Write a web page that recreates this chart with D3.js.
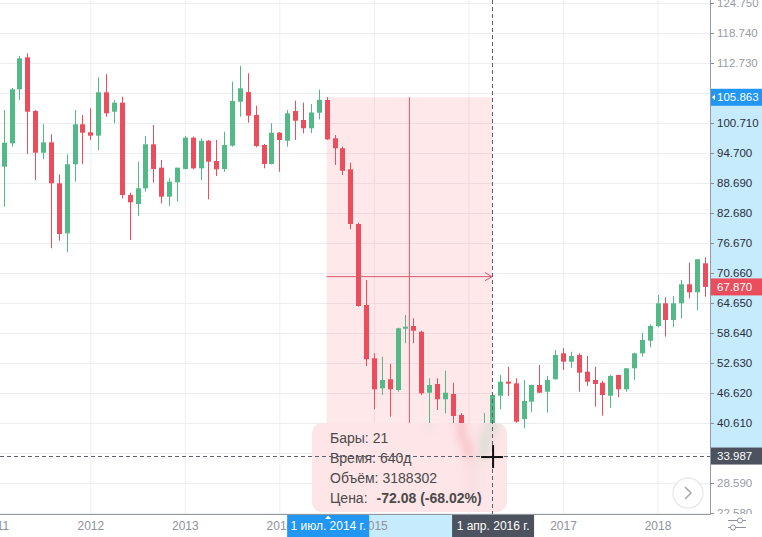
<!DOCTYPE html>
<html>
<head>
<meta charset="utf-8">
<script src="https://cdn.jsdelivr.net/npm/d3@7"></script>
<style>
  html, body { margin: 0; padding: 0; background: #fff; overflow: hidden; }
  svg { display: block; }
</style>
</head>
<body>
<svg id="chart"></svg>
<script>
/* ════════════════════════════════════════════════════════
   Monthly candles 2011–2018 with a measure tool overlay
   ════════════════════════════════════════════════════════ */

/* ── Data ── */
const months = d3.timeMonth.range(new Date(2011, 1, 1), new Date(2018, 7, 1)); // Feb 2011 .. Jul 2018

const open = [
  91.96, 96.64, 107.46, 113.87, 103.11, 94.76, 96.84, 88.63, 78.61, 92.44, 100.45,
  98.85, 98.17, 106.86, 102.97, 104.78, 86.29, 84.48, 87.63, 96.44, 91.76, 85.95, 88.83,
  91.50, 97.77, 91.63, 97.16, 93.10, 91.50, 96.16, 104.98, 106.90, 102.31, 96.30, 92.50,
  98.77, 97.16, 103.11, 101.31, 99.65, 102.77, 105.32, 97.64, 95.64, 91.43, 80.48, 64.25,
  53.57, 47.56, 49.37, 47.22, 59.50, 60.04, 58.90, 46.68, 48.42, 45.36, 46.42, 42.21,
  37.00, 33.60, 33.90, 38.50, 46.08, 48.89, 48.56, 41.41, 44.88, 48.22, 46.88, 49.37,
  54.57, 52.89, 54.24, 50.89, 49.23, 48.69, 46.08, 50.23, 47.36, 51.57, 54.57, 57.10,
  60.04, 64.59, 61.25, 64.59, 68.40, 66.79, 72.60
];
const high = [
  103.31, 107.72, 114.13, 114.67, 103.31, 100.45, 98.45, 90.43, 94.44, 103.31, 102.31,
  103.65, 109.86, 110.53, 105.32, 105.98, 86.75, 92.96, 98.11, 100.31, 93.30, 89.63, 91.76,
  98.11, 97.97, 97.64, 97.30, 97.30, 98.97, 108.98, 112.13, 110.67, 104.18, 96.50, 100.65,
  98.90, 103.31, 105.18, 104.78, 104.52, 107.42, 105.90, 98.30, 95.96, 92.76, 80.74, 69.26,
  54.57, 53.89, 52.43, 59.70, 62.25, 61.59, 59.10, 49.57, 49.57, 51.09, 48.68, 42.61,
  38.40, 34.80, 42.60, 46.40, 50.23, 51.89, 49.57, 49.23, 48.30, 52.23, 50.03, 55.24,
  55.58, 54.90, 54.57, 54.03, 51.89, 49.03, 50.23, 50.30, 51.60, 54.69, 58.70, 60.38,
  66.25, 65.79, 66.05, 69.26, 72.73, 73.41, 73.81
];
const low = [
  83.94, 95.96, 105.32, 94.50, 89.29, 93.44, 75.61, 77.13, 74.81, 88.95, 92.44,
  97.31, 95.30, 101.97, 100.65, 85.62, 77.27, 82.08, 86.95, 88.75, 84.62, 84.09, 84.94,
  91.43, 91.43, 89.29, 85.42, 90.09, 90.95, 95.96, 101.97, 100.77, 95.84, 91.63, 92.40,
  90.95, 95.96, 97.31, 98.65, 98.65, 101.45, 97.31, 92.30, 90.29, 79.42, 63.91, 52.03,
  43.35, 46.22, 41.87, 46.88, 56.58, 56.58, 46.20, 39.21, 43.21, 42.55, 40.55, 34.50,
  26.20, 26.10, 32.50, 35.50, 43.35, 46.02, 40.67, 39.55, 42.76, 46.60, 42.68, 49.30,
  51.23, 51.69, 46.88, 48.02, 43.88, 42.08, 43.68, 45.76, 46.88, 49.23, 53.89, 55.78,
  59.78, 57.90, 59.78, 61.59, 65.59, 63.25, 65.91
];
const close = [
  96.76, 107.46, 113.67, 102.97, 94.76, 96.84, 88.63, 78.47, 92.44, 100.45, 98.77,
  98.17, 106.86, 102.65, 104.78, 86.29, 84.82, 87.63, 96.44, 91.50, 85.95, 88.95, 91.76,
  97.77, 91.63, 97.16, 92.96, 91.43, 96.30, 105.12, 107.66, 102.17, 96.10, 92.50, 98.77,
  97.31, 102.65, 101.17, 99.65, 102.81, 105.36, 97.44, 95.64, 91.15, 80.48, 64.05, 53.37,
  47.36, 49.23, 47.36, 59.58, 59.90, 59.10, 46.56, 48.22, 45.36, 46.68, 42.02, 37.00,
  33.60, 33.90, 38.50, 46.22, 48.89, 48.49, 40.87, 45.02, 48.22, 46.68, 49.23, 54.24,
  52.89, 54.03, 50.69, 48.89, 48.42, 46.22, 50.03, 47.36, 51.57, 54.57, 57.24, 60.04,
  64.59, 61.25, 64.59, 68.40, 66.79, 73.41, 67.87
];

const priceTicks = [124.75, 118.74, 112.73, 106.72, 100.71, 94.70, 88.69, 82.68, 76.67,
                    70.66, 64.65, 58.64, 52.63, 46.62, 40.61, 34.60, 28.59, 22.58];
const yearTicks  = [2011, 2012, 2013, 2014, 2015, 2016, 2017, 2018];

const measureDates  = [new Date(2014, 6, 1), new Date(2016, 3, 1)];
const measurePrices = [105.863, 33.987];
const measureDateLabels = ['1 июл. 2014 г.', '1 апр. 2016 г.'];
const lastPrice = 67.870;

const tipLabels = ['Бары:', 'Время:', 'Объём:', 'Цена:'];
const tipValues = ['21', '640д', '3188302', '-72.08 (-68.02%)'];

/* ── Look ── */
const W = 762, H = 537;
const PLOT_W = 710, PLOT_H = 514;
const UP = '#53b987', DOWN = '#eb4d5c';
const GRID = '#eceef2';
const FONT = '"Liberation Sans", Arial, sans-serif';
const HILITE = '#c6ebfc';

const svg = d3.select('#chart')
  .attr('width', W).attr('height', H)
  .attr('viewBox', `0 0 ${W} ${H}`)
  .style('font-family', FONT);

const defs = svg.append('defs');
defs.append('clipPath').attr('id', 'plotClip')
  .append('rect').attr('width', PLOT_W).attr('height', PLOT_H);
defs.append('clipPath').attr('id', 'axisClip')
  .append('rect').attr('x', PLOT_W).attr('width', W - PLOT_W).attr('height', PLOT_H);
defs.append('filter').attr('id', 'soft')
  .attr('x', '-20%').attr('y', '-20%').attr('width', '140%').attr('height', '140%')
  .append('feGaussianBlur').attr('stdDeviation', 4);

/* ── Scales ── */
const monthIndex = d => (d.getFullYear() - 2011) * 12 + d.getMonth() - 1;
const x = d3.scaleLinear().domain([0, months.length - 1]).range([3.64, 704.8]);
const y = d3.scaleLinear().domain([22.58, 124.75]).range([513, 3]);

const plot = svg.append('g').attr('clip-path', 'url(#plotClip)');

/* ── Grid lines ── */
plot.append('g')
  .call(d3.axisLeft(y).tickValues(priceTicks).tickSize(-PLOT_W).tickFormat(''))
  .call(ax => ax.select('.domain').remove())
  .call(ax => ax.selectAll('.tick line').attr('stroke', GRID));

plot.append('g')
  .attr('transform', `translate(0,${PLOT_H})`)
  .call(d3.axisBottom(x)
    .tickValues(yearTicks.map(yr => monthIndex(new Date(yr, 0, 1))))
    .tickSize(PLOT_H).tickFormat(''))
  .call(ax => ax.select('.domain').remove())
  .call(ax => ax.selectAll('.tick line').attr('stroke', GRID).attr('y2', -PLOT_H));

/* ── Measure rectangle (behind candles) ── */
const mx0 = x(monthIndex(measureDates[0])), mx1 = x(monthIndex(measureDates[1]));
const my0 = y(measurePrices[0]), my1 = y(measurePrices[1]);

plot.append('rect')
  .attr('x', mx0).attr('y', my0)
  .attr('width', mx1 - mx0).attr('height', my1 - my0)
  .attr('fill', 'rgba(244, 67, 84, 0.12)');

/* ── Candles ── */
function drawCandles(g) {
  months.forEach((m, i) => {
    const cx = Math.round(x(i));
    const col = close[i] >= open[i] ? UP : DOWN;
    g.append('line')
      .attr('x1', cx + 0.5).attr('x2', cx + 0.5)
      .attr('y1', y(high[i])).attr('y2', y(low[i]))
      .attr('stroke', col).attr('stroke-width', 1);
    const top = y(Math.max(open[i], close[i]));
    const bot = y(Math.min(open[i], close[i]));
    g.append('rect')
      .attr('x', cx - 2).attr('y', top)
      .attr('width', 5).attr('height', Math.max(1, bot - top))
      .attr('fill', col);
  });
}
drawCandles(plot.append('g'));

/* ── Measure lines ── */
const mCol = '#d9566c';
const mxMid = (mx0 + mx1) / 2, myMid = (my0 + my1) / 2;
plot.append('line')
  .attr('x1', mx0).attr('x2', mx1).attr('y1', myMid).attr('y2', myMid)
  .attr('stroke', mCol).attr('stroke-width', 1);
plot.append('path')
  .attr('d', `M${mx1 - 7},${myMid - 4}L${mx1},${myMid}L${mx1 - 7},${myMid + 4}`)
  .attr('fill', 'none').attr('stroke', mCol).attr('stroke-width', 1);
plot.append('line')
  .attr('x1', mxMid).attr('x2', mxMid).attr('y1', my0).attr('y2', my1)
  .attr('stroke', mCol).attr('stroke-width', 1);
plot.append('path')
  .attr('d', `M${mxMid - 4},${my1 - 7}L${mxMid},${my1}L${mxMid + 4},${my1 - 7}`)
  .attr('fill', 'none').attr('stroke', mCol).attr('stroke-width', 1);

/* ── Tooltip with blurred backdrop ── */
const TIP = { x: 312, y: 423, w: 195, h: 89, r: 10 };
defs.append('clipPath').attr('id', 'tipClip')
  .append('rect').attr('x', TIP.x).attr('y', TIP.y)
  .attr('width', TIP.w).attr('height', TIP.h).attr('rx', TIP.r);

const tip = plot.append('g').attr('clip-path', 'url(#tipClip)');
tip.append('rect')
  .attr('x', TIP.x).attr('y', TIP.y).attr('width', TIP.w).attr('height', TIP.h)
  .attr('fill', '#fde5e8');
drawCandles(tip.append('g').attr('filter', 'url(#soft)').attr('opacity', 0.55));
tip.append('rect')
  .attr('x', TIP.x).attr('y', TIP.y).attr('width', TIP.w).attr('height', TIP.h)
  .attr('fill', 'rgba(253, 229, 232, 0.35)');

tipLabels.forEach((lab, i) => {
  const t = plot.append('text')
    .attr('x', 330).attr('y', 443 + i * 20)
    .attr('fill', '#4a4a4a').attr('font-size', 14);
  t.append('tspan').text(lab);
  const last = i === tipLabels.length - 1;
  t.append('tspan')
    .attr('dx', last ? 9 : 4)
    .attr('font-weight', last ? 'bold' : 'normal')
    .text(tipValues[i]);
});

/* ── Crosshair ── */
plot.append('line')
  .attr('x1', 0).attr('x2', PLOT_W).attr('y1', Math.round(my1) + 0.5).attr('y2', Math.round(my1) + 0.5)
  .attr('stroke', '#5d606b').attr('stroke-dasharray', '4,3');
plot.append('line')
  .attr('x1', Math.round(mx1) + 0.5).attr('x2', Math.round(mx1) + 0.5).attr('y1', 0).attr('y2', PLOT_H)
  .attr('stroke', '#5d606b').attr('stroke-dasharray', '4,3');

const cur = plot.append('g').attr('stroke', '#111').attr('stroke-width', 2);
cur.append('line').attr('x1', mx1 - 11).attr('x2', mx1 + 11).attr('y1', my1 + 1).attr('y2', my1 + 1);
cur.append('line').attr('x1', mx1 + 1).attr('x2', mx1 + 1).attr('y1', my1 - 11).attr('y2', my1 + 12);

/* ── Scroll button ── */
const btn = plot.append('g').attr('transform', 'translate(688,493)');
btn.append('circle').attr('r', 15).attr('fill', '#fff')
  .attr('stroke', '#ebebeb').attr('stroke-width', 1.5);
btn.append('path').attr('d', 'M-3,-6L3,0L-3,6')
  .attr('fill', 'none').attr('stroke', '#a3a6af').attr('stroke-width', 1.5);

/* ── Price axis ── */
svg.append('rect')
  .attr('x', PLOT_W).attr('y', my0).attr('width', W - PLOT_W).attr('height', my1 - my0)
  .attr('fill', HILITE);

/* labels sitting under a price tag are dropped, as the terminal does */
const tagPrices = [lastPrice, ...measurePrices];
const hiddenUnderTag = v => tagPrices.some(p => Math.abs(y(p) - y(v)) < 13);

const axisG = svg.append('g').attr('clip-path', 'url(#axisClip)');
axisG.append('g')
  .attr('transform', `translate(${PLOT_W},0)`)
  .call(d3.axisRight(y).tickValues(priceTicks).tickFormat(d3.format('.3f')).tickSize(4).tickPadding(3))
  .call(ax => ax.select('.domain').remove())
  .call(ax => ax.selectAll('.tick line').attr('stroke', '#8a8d96'))
  .call(ax => ax.selectAll('.tick text')
    .attr('font-size', 11.5)
    .attr('font-family', FONT)
    .attr('fill', d => (d <= measurePrices[0] && d >= measurePrices[1]) ? '#2a2e39' : '#989ba4'))
  .call(ax => ax.selectAll('.tick').filter(d => hiddenUnderTag(d)).select('text').remove());

function priceTag(v, bg, notch) {
  const cy = y(v);
  const g = axisG.append('g');
  g.append('rect')
    .attr('x', PLOT_W + 1).attr('y', cy - 8.5).attr('width', W - PLOT_W - 1).attr('height', 17)
    .attr('fill', bg);
  if (notch) {
    g.append('path')
      .attr('d', `M${PLOT_W + 2},${cy}L${PLOT_W + 5},${cy - 3}L${PLOT_W + 5},${cy + 3}Z`)
      .attr('fill', '#fff');
  }
  g.append('text')
    .attr('x', PLOT_W + 7).attr('y', cy).attr('dy', '0.35em')
    .attr('fill', '#fff').attr('font-size', 11.5)
    .text(d3.format('.3f')(v));
}
priceTag(lastPrice, DOWN, false);
priceTag(measurePrices[0], '#2196f3', true);
priceTag(measurePrices[1], '#4c525e', false);

/* ── Time axis ── */
svg.append('rect')
  .attr('x', mx0).attr('y', PLOT_H).attr('width', mx1 - mx0).attr('height', H - PLOT_H)
  .attr('fill', HILITE);

const tagCentres = [mx0 + 1.5, mx1 + 1];
svg.append('g')
  .attr('transform', `translate(0,${PLOT_H})`)
  .call(d3.axisBottom(x)
    .tickValues(yearTicks.map(yr => monthIndex(new Date(yr, 0, 1))))
    .tickFormat((d, i) => yearTicks[i])
    .tickSize(0))
  .call(ax => ax.select('.domain').remove())
  .call(ax => ax.selectAll('.tick text')
    .attr('dy', null).attr('y', 16)
    .attr('font-size', 12).attr('font-family', FONT)
    .attr('fill', '#8f929b'))
  .call(ax => ax.selectAll('.tick')
    .filter(d => tagCentres.some(c => Math.abs(x(d) - c) < 28)).select('text').remove());

function dateTag(cx, label, bg, marker) {
  const g = svg.append('g');
  g.append('rect')
    .attr('x', cx - 41).attr('y', PLOT_H + 1).attr('width', 82).attr('height', H - PLOT_H - 1)
    .attr('fill', bg);
  if (marker) {
    g.append('path')
      .attr('d', `M${cx - 3},${PLOT_H + 5}L${cx},${PLOT_H + 1.5}L${cx + 3},${PLOT_H + 5}Z`)
      .attr('fill', '#fff');
  }
  g.append('text')
    .attr('x', cx).attr('y', PLOT_H + 16)
    .attr('text-anchor', 'middle')
    .attr('fill', '#fff').attr('font-size', 12)
    .text(label);
}
dateTag(tagCentres[0], measureDateLabels[0], '#2196f3', true);
dateTag(tagCentres[1], measureDateLabels[1], '#4c525e', false);

/* ── Axis borders ── */
svg.append('line')
  .attr('x1', 0).attr('x2', PLOT_W + 0.5).attr('y1', PLOT_H + 0.5).attr('y2', PLOT_H + 0.5)
  .attr('stroke', '#9598a1');
svg.append('line')
  .attr('x1', PLOT_W + 0.5).attr('x2', PLOT_W + 0.5).attr('y1', 0).attr('y2', PLOT_H + 0.5)
  .attr('stroke', '#9598a1');

/* ── Settings glyph ── */
const gear = svg.append('g').attr('stroke', '#8f929b').attr('fill', '#fff').attr('stroke-width', 1);
gear.append('line').attr('x1', 728).attr('x2', 746).attr('y1', 520.5).attr('y2', 520.5);
gear.append('line').attr('x1', 728).attr('x2', 746).attr('y1', 527.5).attr('y2', 527.5);
gear.append('circle').attr('cx', 740).attr('cy', 520.5).attr('r', 2.5);
gear.append('circle').attr('cx', 733).attr('cy', 527.5).attr('r', 2.5);
</script>
</body>
</html>
